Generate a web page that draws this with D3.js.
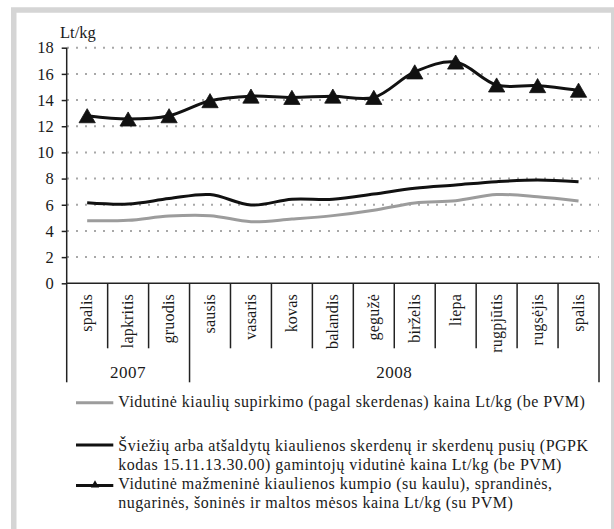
<!DOCTYPE html>
<html>
<head>
<meta charset="utf-8">
<script src="https://cdn.jsdelivr.net/npm/d3@7"></script>
<style>
  html, body { margin: 0; padding: 0; background: #fff; }
  svg { display: block; }
  text { font-family: "Liberation Serif", "Times New Roman", serif; fill: #1a1a1a; }
</style>
</head>
<body>
<svg id="chart" width="614" height="529"></svg>
<script>
// ---- data ----
const months = ["spalis","lapkritis","gruodis","sausis","vasaris","kovas","balandis","gegužė","birželis","liepa","rugpjūtis","rugsėjis","spalis"];
const years = ["2007", "2008"];
const yearSpans = [[0, 3], [3, 13]];
const purchasePrice = [4.78, 4.81, 5.14, 5.17, 4.71, 4.91, 5.17, 5.58, 6.14, 6.31, 6.78, 6.62, 6.29];
const producerPrice = [6.16, 6.06, 6.47, 6.78, 5.98, 6.42, 6.42, 6.82, 7.26, 7.51, 7.76, 7.89, 7.76];
const retailPrice = [12.8, 12.55, 12.8, 13.95, 14.3, 14.2, 14.3, 14.2, 16.15, 16.9, 15.15, 15.1, 14.75];
const yTicks = [0, 2, 4, 6, 8, 10, 12, 14, 16, 18];
const legendLabels = [
  ["Vidutinė kiaulių supirkimo (pagal skerdenas) kaina Lt/kg (be PVM)"],
  ["Šviežių arba atšaldytų kiaulienos skerdenų ir skerdenų pusių (PGPK", "kodas 15.11.13.30.00) gamintojų vidutinė kaina Lt/kg (be PVM)"],
  ["Vidutinė mažmeninė kiaulienos kumpio (su kaulu), sprandinės,", "nugarinės, šoninės ir maltos mėsos kaina Lt/kg (su PVM)"]
];
const unitLabel = "Lt/kg";

// ---- layout ----
const svg = d3.select("#chart");
const X0 = 66.7, X1 = 599, Y0 = 283.3, YT = 47.7;

// frame
svg.append("rect").attr("x", 13.75).attr("y", 10).attr("width", 600).attr("height", 540)
  .attr("fill", "#fff").attr("stroke", "#d5d5d5").attr("stroke-width", 5.5);

const x = d3.scaleBand().domain(d3.range(months.length)).range([X0, X1]).padding(0);
const y = d3.scaleLinear().domain([0, 18]).range([Y0, YT]);
const xc = i => x(i) + x.bandwidth() / 2;

// gridlines
svg.append("g").selectAll("line").data(yTicks.filter(d => d > 0)).join("line")
  .attr("x1", X0).attr("x2", X1).attr("y1", d => y(d)).attr("y2", d => y(d))
  .attr("stroke", "#a8a8a8").attr("stroke-width", 2).attr("stroke-dasharray", "2 7").attr("stroke-dashoffset", -0.3);

// y axis
const yAxis = svg.append("g").attr("transform", `translate(${X0},0)`)
  .call(d3.axisLeft(y).tickValues(yTicks).tickSize(5).tickPadding(8).tickFormat(d3.format("d")));
yAxis.select(".domain").attr("stroke", "#222").attr("stroke-width", 1.5).attr("d", `M0,${YT}V${Y0}`);
yAxis.selectAll(".tick line").attr("stroke", "#222").attr("stroke-width", 1.5);
yAxis.selectAll(".tick text").attr("font-size", 16.5).attr("fill", "#1a1a1a");

svg.append("text").attr("x", 60).attr("y", 37.5).attr("font-size", 16.5).text(unitLabel);

// x axis line
svg.append("line").attr("x1", X0).attr("x2", X1).attr("y1", Y0).attr("y2", Y0)
  .attr("stroke", "#222").attr("stroke-width", 1.5);

// separators
const groupBounds = new Set([0, 3, 13]);
svg.append("g").selectAll("line").data(d3.range(0, months.length + 1)).join("line")
  .attr("x1", i => i < months.length ? x(i) : X1).attr("x2", i => i < months.length ? x(i) : X1)
  .attr("y1", Y0).attr("y2", i => groupBounds.has(i) ? 382.3 : 348.3)
  .attr("stroke", "#222").attr("stroke-width", 1.5);

// month labels
svg.append("g").selectAll("text").data(months).join("text")
  .attr("transform", (d, i) => `translate(${xc(i)},294) rotate(-90)`)
  .attr("text-anchor", "end").attr("dy", "0.33em")
  .attr("font-size", 16).attr("letter-spacing", 0.2).text(d => d);

// year labels
svg.append("g").selectAll("text").data(years).join("text")
  .attr("x", (d, i) => (x(yearSpans[i][0]) + (yearSpans[i][1] < months.length ? x(yearSpans[i][1]) : X1)) / 2)
  .attr("y", 377.7).attr("text-anchor", "middle").attr("font-size", 17).attr("letter-spacing", 0.5)
  .text(d => d);

// lines
const line = d3.line().x((d, i) => xc(i)).y(d => y(d)).curve(d3.curveCatmullRom.alpha(0.5));
svg.append("path").datum(purchasePrice).attr("d", line).attr("fill", "none")
  .attr("stroke", "#9c9c9c").attr("stroke-width", 3);
svg.append("path").datum(producerPrice).attr("d", line).attr("fill", "none")
  .attr("stroke", "#111").attr("stroke-width", 3);
svg.append("path").datum(retailPrice).attr("d", line).attr("fill", "none")
  .attr("stroke", "#111").attr("stroke-width", 3);

const tri = d3.symbol(d3.symbolTriangle, 115);
svg.append("g").selectAll("path").data(retailPrice).join("path")
  .attr("d", tri).attr("transform", (d, i) => `translate(${xc(i)},${y(d) + 2.3})`)
  .attr("fill", "#111").attr("stroke", "#111").attr("stroke-width", 0.8);

// legend
const legendItems = [
  { lineY: 402.7, baselines: [407.3], color: "#9c9c9c", marker: false },
  { lineY: 445, baselines: [450.7, 469.5], color: "#111", marker: false },
  { lineY: 485.5, baselines: [489, 507.7], color: "#111", marker: true }
];
const lg = svg.append("g");
legendItems.forEach((it, k) => {
  lg.append("line").attr("x1", 76).attr("x2", 113.3).attr("y1", it.lineY).attr("y2", it.lineY)
    .attr("stroke", it.color).attr("stroke-width", 3);
  if (it.marker) {
    lg.append("path").attr("d", d3.symbol(d3.symbolTriangle, 30)).attr("transform", `translate(95,${it.lineY - 0.5})`)
      .attr("fill", "#111");
  }
  legendLabels[k].forEach((t, j) => {
    lg.append("text").attr("x", 118.3).attr("y", it.baselines[j]).attr("font-size", 16)
      .attr("letter-spacing", 0.5).text(t);
  });
});
</script>
</body>
</html>
